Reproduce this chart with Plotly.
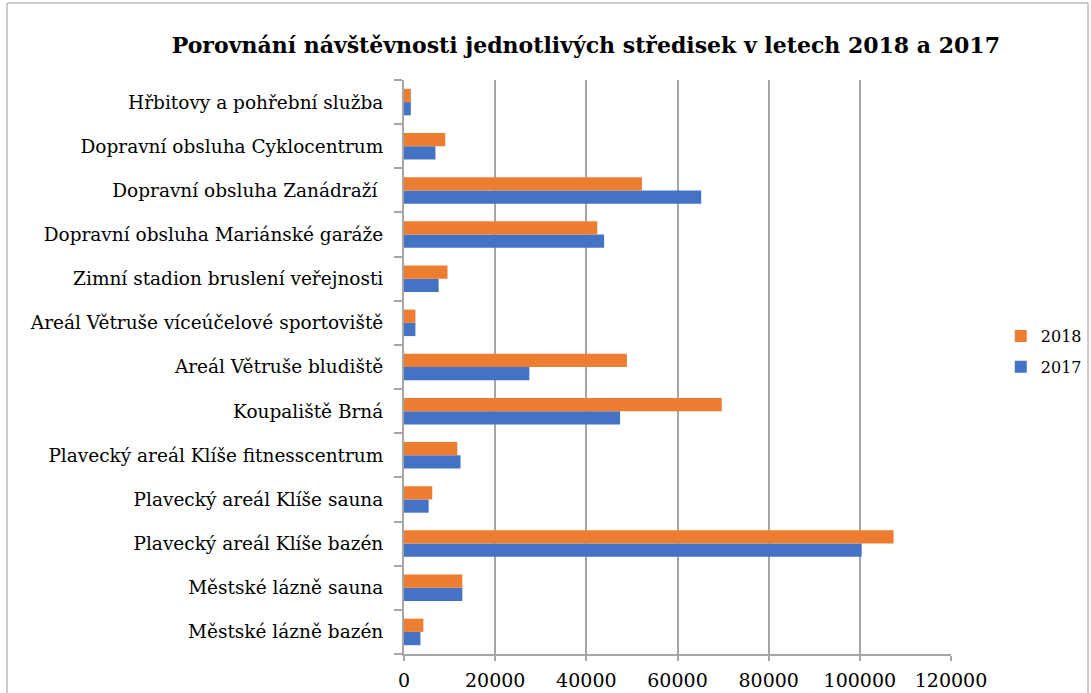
import plotly.graph_objects as go

categories = [
    "Městské lázně bazén",
    "Městské lázně sauna",
    "Plavecký areál Klíše bazén",
    "Plavecký areál Klíše sauna",
    "Plavecký areál Klíše fitnesscentrum",
    "Koupaliště Brná",
    "Areál Větruše bludiště",
    "Areál Větruše víceúčelové sportoviště",
    "Zimní stadion bruslení veřejnosti",
    "Dopravní obsluha Mariánské garáže",
    "Dopravní obsluha Zanádraží ",
    "Dopravní obsluha Cyklocentrum",
    "Hřbitovy a pohřební služba",
]
values_2017 = [3600, 12800, 100400, 5400, 12400, 47400, 27500, 2500, 7600, 43900, 65200, 6900, 1500]
values_2018 = [4250, 12800, 107400, 6200, 11700, 69700, 48900, 2500, 9550, 42400, 52200, 9050, 1500]
x_ticks = [0, 20000, 40000, 60000, 80000, 100000, 120000]

FONT = "DejaVu Serif"
W, H = 1091, 693
L, R, T, B = 404, 140, 80, 39

fig = go.Figure()
fig.add_trace(go.Bar(y=categories, x=values_2017, name="2017", orientation="h", legendgroup="g2017",
                     legendrank=2, marker=dict(color="#4472C4", line=dict(width=0))))
fig.add_trace(go.Bar(y=categories, x=values_2018, name="2018", orientation="h", legendgroup="g2018",
                     legendrank=1, marker=dict(color="#ED7D31", line=dict(width=0))))

pw = W - L - R
ph = H - T - B
fig.add_shape(type="rect", xref="paper", yref="paper",
              x0=(7 - L) / pw, x1=(1088 - L) / pw,
              y0=(H - B - 700) / ph, y1=(H - B - 3) / ph,
              line=dict(color="#9a9a9a", width=1), fillcolor="rgba(0,0,0,0)", layer="below")

fig.update_layout(
    width=W, height=H,
    margin=dict(l=L, r=R, t=T, b=B, autoexpand=False),
    paper_bgcolor="white", plot_bgcolor="white",
    barmode="group", bargap=0.4, bargroupgap=0,
    font=dict(family=FONT, color="#000000", size=15),
    title=dict(text="<b>Porovnání návštěvnosti jednotlivých středisek v letech 2018 a 2017</b>",
               x=0.537, xref="container", xanchor="center", y=0.935, yref="container", yanchor="middle",
               font=dict(family=FONT, size=22, color="#000000")),
    legend=dict(x=1.091, xanchor="left", y=0.527, yanchor="middle", traceorder="grouped",
                font=dict(family=FONT, size=16, color="#000000"), itemwidth=30, tracegroupgap=7),
    xaxis=dict(range=[0, 120000], tickvals=x_ticks, ticktext=[str(v) for v in x_ticks],
               showgrid=True, gridcolor="#a6a6a6", gridwidth=2,
               showline=True, linecolor="#a6a6a6", linewidth=2,
               ticks="outside", ticklen=5, tickcolor="#a6a6a6", tickwidth=2, ticklabelstandoff=3,
               tickfont=dict(family=FONT, size=19), zeroline=False, fixedrange=True),
    yaxis=dict(type="category", categoryorder="array", categoryarray=categories,
               showline=True, linecolor="#a6a6a6", linewidth=2,
               ticks="outside", ticklen=8, tickcolor="#a6a6a6", tickwidth=2, tickson="boundaries",
               ticklabelstandoff=15,
               showgrid=False, tickfont=dict(family=FONT, size=18.5), zeroline=False, fixedrange=True),
)

fig.write_html("out.html", config={"displayModeBar": False},
               post_script="document.body.style.margin='0px';")
